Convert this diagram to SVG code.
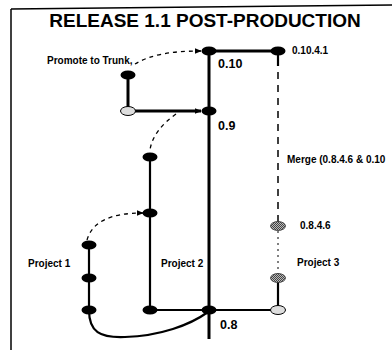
<svg xmlns="http://www.w3.org/2000/svg" width="392" height="350" viewBox="0 0 392 350">
<style>
.t{font-family:"Liberation Sans",Arial,sans-serif;font-weight:bold;fill:#000}
.lbl{font-size:10px}
.ver{font-size:12.5px}
.node{fill:#000}
.hatch{fill:url(#hp);stroke:#333;stroke-width:0.8}
.light{fill:#ddd;stroke:#000;stroke-width:1}
.thick{stroke:#000;stroke-width:3;fill:none}
.med{stroke:#000;stroke-width:2.2;fill:none}
.dash{stroke:#000;stroke-width:1.3;fill:none;stroke-dasharray:4 4}
</style>
<defs>
<pattern id="hp" width="2" height="2" patternUnits="userSpaceOnUse">
<rect width="2" height="2" fill="#bbb"/>
<rect width="1" height="1" fill="#444"/>
<rect x="1" y="1" width="1" height="1" fill="#444"/>
</pattern>
<marker id="ah" viewBox="0 0 10 10" refX="9" refY="5" markerWidth="7" markerHeight="7" orient="auto" markerUnits="userSpaceOnUse">
<path d="M0,1 L10,5 L0,9 z" fill="#000"/>
</marker>
</defs>
<rect width="392" height="350" fill="#fff"/>
<g id="frame">
<path d="M11,9 L11,350" stroke="#000" stroke-width="1.5" fill="none"/>
<path d="M11,9 L200,7 L392,5" stroke="#000" stroke-width="1.5" fill="none"/>
</g>
<text class="t" x="205" y="27" font-size="19" text-anchor="middle">RELEASE 1.1 POST-PRODUCTION</text>
<g id="connectors">
<path class="thick" d="M209,51 L209,339"/>
<path class="thick" d="M209,51 L278,51"/>
<path class="thick" d="M128,75 L128,111"/>
<path class="thick" d="M128,111 L201,111" marker-end="url(#ah)"/>
<path class="med" d="M150,157 L150,310"/>
<path class="med" d="M89,245 L89,310"/>
<path class="med" d="M150,310 L278,310"/>
<path class="med" d="M278,278 L278,310"/>
<path class="med" d="M278,51 L278,66"/>
<path stroke="#000" stroke-width="1.5" fill="none" stroke-dasharray="7 6" d="M278,72 L278,222"/>
<path stroke="#000" stroke-width="1" fill="none" stroke-dasharray="2 4" d="M278,231 L278,274"/>
<path class="med" d="M89,310 C89,332 100,338 125,337 C160,336 190,325 208,312"/>
<path class="dash" d="M135,64 C150,55 170,51 201,51" marker-end="url(#ah)"/>
<path class="dash" d="M176,114 C162,124 152,136 150,150"/>
<path class="dash" d="M87,240 C92,222 110,213 143,213" marker-end="url(#ah)"/>
</g>
<g id="n-0-10"><ellipse class="node" cx="209" cy="51" rx="7.5" ry="4.5"/><text class="t ver" x="218" y="68">0.10</text></g>
<g id="n-0-10-4-1"><ellipse class="node" cx="278" cy="51" rx="7.5" ry="4.5"/><text class="t lbl" x="292" y="54">0.10.4.1</text></g>
<g id="n-promote"><ellipse class="node" cx="128" cy="75" rx="7.5" ry="4.5"/><text class="t lbl" x="47" y="64">Promote to Trunk,</text></g>
<g id="n-promote-base"><ellipse class="light" cx="128" cy="111" rx="7.5" ry="4.5"/></g>
<g id="n-0-9"><ellipse class="node" cx="209" cy="111" rx="7.5" ry="4.5"/><text class="t ver" x="218" y="130">0.9</text></g>
<g id="n-merge"><text class="t lbl" x="287" y="163">Merge (0.8.4.6 &amp; 0.10</text></g>
<g id="n-0-8-4-6"><ellipse class="hatch" cx="278" cy="226" rx="7.5" ry="4.5"/><text class="t lbl" x="300" y="229">0.8.4.6</text></g>
<g id="n-p2-top"><ellipse class="node" cx="150" cy="157" rx="7.5" ry="4.5"/></g>
<g id="n-p2-mid"><ellipse class="node" cx="150" cy="213" rx="7.5" ry="4.5"/></g>
<g id="n-p2-bot"><ellipse class="node" cx="150" cy="310" rx="7.5" ry="4.5"/><text class="t lbl" x="161" y="267">Project 2</text></g>
<g id="n-p1-top"><ellipse class="node" cx="89" cy="245" rx="7.5" ry="4.5"/></g>
<g id="n-p1-mid"><ellipse class="node" cx="89" cy="278" rx="7.5" ry="4.5"/><text class="t lbl" x="28" y="267">Project 1</text></g>
<g id="n-p1-bot"><ellipse class="node" cx="89" cy="310" rx="7.5" ry="4.5"/></g>
<g id="n-0-8"><ellipse class="node" cx="209" cy="310" rx="7.5" ry="4.5"/><text class="t ver" x="220" y="329">0.8</text></g>
<g id="n-p3-top"><ellipse class="hatch" cx="278" cy="278" rx="7.5" ry="4.5"/><text class="t lbl" x="297" y="266">Project 3</text></g>
<g id="n-p3-bot"><ellipse class="light" cx="278" cy="310" rx="7.5" ry="4.5"/></g>
</svg>
